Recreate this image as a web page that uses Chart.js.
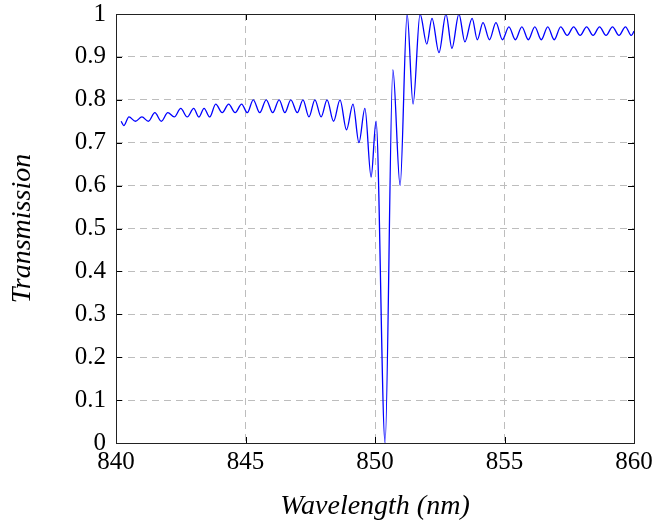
<!DOCTYPE html>
<html><head><meta charset="utf-8">
<script src="https://cdn.jsdelivr.net/npm/chart.js@4/dist/chart.umd.min.js"></script>
<style>html,body{margin:0;padding:0;background:#fff}#wrap{width:655px;height:523px}</style>
</head><body><div id="wrap"><canvas id="c" width="655" height="523"></canvas></div>
<script>
const wavelength = [840.2,840.3,840.5,840.75,841.0,841.25,841.5,841.75,842.0,842.25,842.5,842.75,843.0,843.2,843.4,843.62,843.85,844.1,844.35,844.6,844.85,845.07,845.3,845.55,845.8,846.05,846.3,846.52,846.75,847.0,847.22,847.45,847.68,847.92,848.15,848.4,848.65,848.9,849.15,849.38,849.61,849.85,850.04,850.39,850.69,850.97,851.24,851.47,851.74,852.0,852.2,852.47,852.74,852.97,853.24,853.47,853.75,853.95,854.17,854.42,854.67,854.92,855.17,855.42,855.67,855.92,856.17,856.42,856.67,856.92,857.17,857.42,857.67,857.92,858.17,858.42,858.67,858.92,859.17,859.42,859.67,859.9,860.0];
const transmission = [0.75,0.74,0.76,0.75,0.76,0.75,0.77,0.75,0.77,0.76,0.78,0.76,0.78,0.76,0.78,0.76,0.79,0.77,0.79,0.77,0.79,0.77,0.80,0.77,0.80,0.77,0.80,0.77,0.80,0.77,0.80,0.76,0.80,0.76,0.80,0.75,0.80,0.73,0.79,0.70,0.78,0.62,0.75,0.0,0.87,0.60,1.0,0.79,1.0,0.93,0.99,0.91,1.0,0.92,1.0,0.935,0.99,0.94,0.98,0.94,0.98,0.94,0.97,0.94,0.97,0.94,0.97,0.94,0.97,0.94,0.97,0.95,0.97,0.95,0.97,0.95,0.97,0.95,0.97,0.95,0.97,0.95,0.96];
const xTicks = [840,845,850,855,860];
const yTicks = [0,0.1,0.2,0.3,0.4,0.5,0.6,0.7,0.8,0.9,1];

const points = wavelength.map((w,i)=>({x:w,y:transmission[i]}));
const FONT = "'Liberation Serif', serif";

const frame = {
  id:'frame',
  afterDatasetsDraw(chart){
    const {ctx, chartArea:a, scales} = chart;
    ctx.save();
    ctx.strokeStyle='#000'; ctx.lineWidth=1; ctx.setLineDash([]);
    ctx.beginPath();
    xTicks.forEach(v=>{const p=Math.round(scales.x.getPixelForValue(v))+0.5;
      ctx.moveTo(p,a.bottom); ctx.lineTo(p,a.bottom-6);
      ctx.moveTo(p,a.top); ctx.lineTo(p,a.top+6);});
    yTicks.forEach(v=>{const p=Math.round(scales.y.getPixelForValue(v))+0.5;
      ctx.moveTo(a.left,p); ctx.lineTo(a.left+6,p);
      ctx.moveTo(a.right,p); ctx.lineTo(a.right-6,p);});
    ctx.stroke();
    ctx.strokeStyle='#222';
    ctx.strokeRect(Math.round(a.left)+0.5, Math.round(a.top)+0.5, Math.round(a.right-a.left), Math.round(a.bottom-a.top));
    ctx.restore();
  }
};

new Chart(document.getElementById('c'), {
  type:'line',
  data:{datasets:[{data:points, borderColor:'#0000ff', borderWidth:1.3, pointRadius:0, fill:false, cubicInterpolationMode:'monotone'}]},
  options:{
    responsive:false, animation:false, devicePixelRatio:1,
    layout:{padding:{top:14,right:21,left:0,bottom:0}},
    plugins:{legend:{display:false}, tooltip:{enabled:false}},
    scales:{
      x:{type:'linear', min:840, max:860,
        afterBuildTicks(s){s.ticks = xTicks.map(v=>({value:v}));},
        afterFit(s){s.height = 80; s.paddingLeft = 0; s.paddingRight = 0;},
        grid:{color:'#bdbdbd', lineWidth:1, drawTicks:false},
        border:{display:false, dash:[7,5]},
        ticks:{color:'#000', font:{family:FONT, size:25}, padding:4, maxRotation:0, callback:v=>String(v)},
        title:{display:true, text:'Wavelength (nm)', color:'#000', font:{family:FONT, size:28, style:'italic'}, padding:{top:6,bottom:0}}
      },
      y:{type:'linear', min:0, max:1,
        afterBuildTicks(s){s.ticks = yTicks.map(v=>({value:v}));},
        afterFit(s){s.width = 116; s.paddingTop = 0; s.paddingBottom = 0;},
        grid:{color:'#bdbdbd', lineWidth:1, drawTicks:false},
        border:{display:false, dash:[7,5]},
        ticks:{color:'#000', font:{family:FONT, size:25}, padding:10, callback:v=>String(Math.round(v*10)/10)},
        title:{display:true, text:'Transmission', color:'#000', font:{family:FONT, size:28, style:'italic'}, padding:{top:6,bottom:8}}
      }
    }
  },
  plugins:[frame]
});
</script></body></html>
